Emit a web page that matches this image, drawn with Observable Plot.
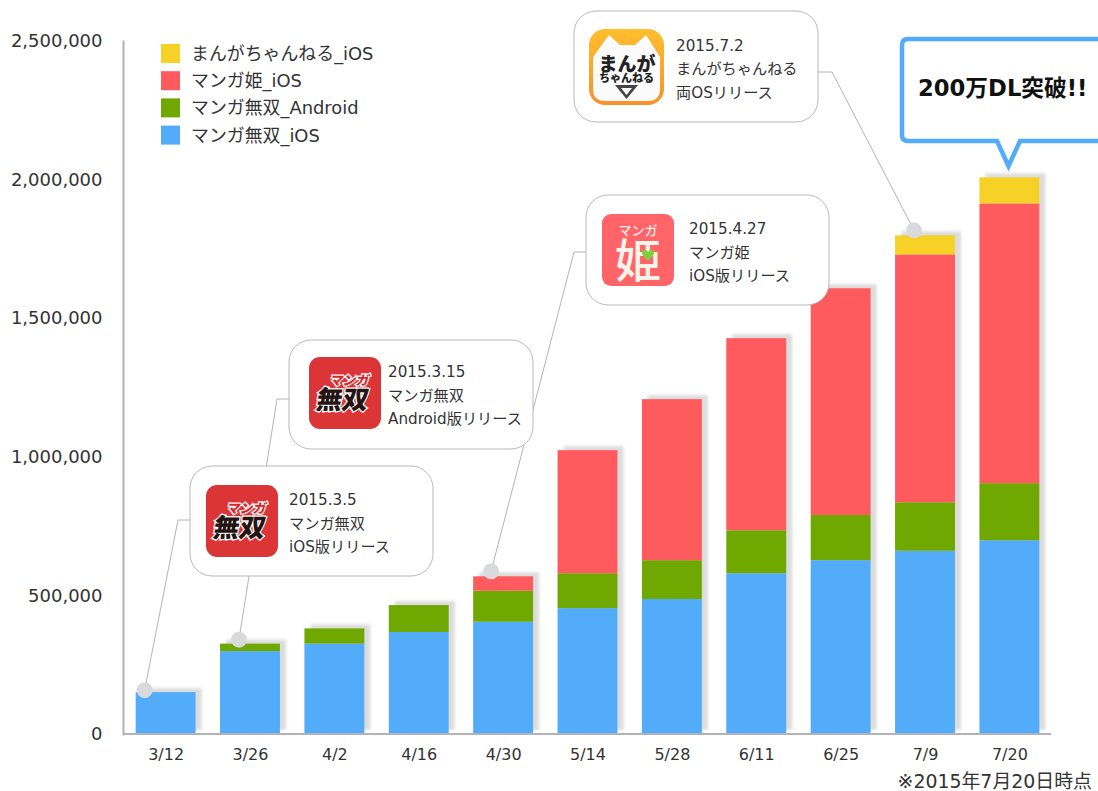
<!DOCTYPE html>
<html lang="ja">
<head>
<meta charset="utf-8">
<script src="https://cdn.jsdelivr.net/npm/d3@7"></script>
<script src="https://cdn.jsdelivr.net/npm/@observablehq/plot@0.6"></script>
<style>
html,body{margin:0;padding:0;background:#fff;overflow:hidden}
svg{display:block}
</style>
</head>
<body>
<div id="chart"></div>
<script>
const dates = ["3/12","3/26","4/2","4/16","4/30","5/14","5/28","6/11","6/25","7/9","7/20"];
const seriesNames = ["マンガ無双_iOS","マンガ無双_Android","マンガ姫_iOS","まんがちゃんねる_iOS"];
const seriesColors = ["#52acfa","#6fa800","#ff5b5f","#f6d227"];
const musoIos =     [151000,299000,326000,368000,405000,454000,487000,580000,627000,661000,699000];
const musoAndroid = [0,27000,55000,97000,112000,126000,140000,155000,163000,175000,206000];
const himeIos =     [0,0,0,0,52000,444000,581000,693000,818000,894000,1009000];
const channelIos =  [0,0,0,0,0,0,0,0,0,69000,94000];
const yTicks = [0,500000,1000000,1500000,2000000,2500000];
const footnote = "※2015年7月20日時点";
const headline = "200万DL突破!!";

const seriesValues = [musoIos,musoAndroid,himeIos,channelIos];
const rows = seriesNames.flatMap((s,i)=>dates.map((d,j)=>({date:d,series:s,value:seriesValues[i][j]})));
const totals = dates.map((d,j)=>({date:d,total:d3.sum(seriesValues,v=>v[j])}));

const FONT = '"DejaVu Sans","Noto Sans CJK JP",sans-serif';
const JP = '"Noto Sans CJK JP","DejaVu Sans",sans-serif';

// callout: box px, leader elbow px, release date (bar it points at), dot nudge
const callouts = [
  {bar:"3/26",dx:-11,dy:-4,box:[289,340,244,109],lead:[[289,399],[277,399]],text:["2015.3.15","マンガ無双","Android版リリース"],icon:"muso",ix:20,iy:17,tx:99,ty:32},
  {bar:"3/12",dx:-21,dy:-2,box:[190,466,243,110],lead:[[190,520],[178,520]],text:["2015.3.5","マンガ無双","iOS版リリース"],icon:"muso",ix:16,iy:19,tx:99,ty:34},
  {bar:"4/30",dx:-12,dy:-5,box:[586,195,243,110],lead:[[586,252],[574,252]],text:["2015.4.27","マンガ姫","iOS版リリース"],icon:"hime",ix:16,iy:19,tx:103,ty:34},
  {bar:"7/9", dx:-11,dy:-5,box:[574,11,244,111],lead:[[818,72],[832,72]],text:["2015.7.2","まんがちゃんねる","両OSリリース"],icon:"channel",ix:15,iy:18,tx:102,ty:34.5}
];

function txt(g,x,y,s,o={}){
  return g.append("text").attr("x",x).attr("y",y).text(s)
    .attr("font-family",o.font||FONT).attr("font-size",o.size||15)
    .attr("font-weight",o.weight||400).attr("fill",o.fill||"#333")
    .attr("text-anchor",o.anchor||"start").attr("dominant-baseline","central");
}

function drawIcon(g,kind,x,y){
  const i = g.append("g").attr("transform",`translate(${x},${y})`);
  if(kind==="muso"){
    i.append("rect").attr("width",72).attr("height",72).attr("rx",11).attr("fill","#dc3538");
    txt(i,0,0,"マンガ",{font:JP,size:13,weight:900,fill:"#d9262c",anchor:"middle"})
      .attr("stroke","#fff").attr("stroke-width",2.5).attr("paint-order","stroke")
      .attr("transform","translate(41,23) skewX(-14)");
    txt(i,0,0,"無双",{font:JP,size:26,weight:900,fill:"#241414",anchor:"middle"})
      .attr("stroke","#fff").attr("stroke-width",2.5).attr("paint-order","stroke")
      .attr("transform","translate(34,41) skewX(-10)");
  } else if(kind==="hime"){
    i.append("rect").attr("width",72).attr("height",72).attr("rx",9).attr("fill","#ff6468");
    txt(i,36,15,"マンガ",{font:JP,size:13,weight:500,fill:"#fbeeea",anchor:"middle"});
    txt(i,36,43,"姫",{font:JP,size:46,weight:500,fill:"#fbf3ea",anchor:"middle"});
    i.append("path").attr("d","M46 38c-2-3-6-3-6 1 0 3 4 5 6 8 2-3 6-5 6-8 0-4-4-4-6-1z").attr("fill","#7fcf3a");
  } else {
    const id="grad-channel";
    const lg=i.append("linearGradient").attr("id",id).attr("x1",0).attr("y1",0).attr("x2",0).attr("y2",1);
    lg.append("stop").attr("offset",0).attr("stop-color","#ffbe2e");
    lg.append("stop").attr("offset",1).attr("stop-color","#f8912a");
    i.append("rect").attr("width",75).attr("height",76).attr("rx",16).attr("fill",`url(#${id})`);
    i.append("path").attr("d","M4 28L20 6L31 16H46L57 6L71 28V60Q71 72 59 72H16Q4 72 4 60Z").attr("fill","#fbfbfb");
    txt(i,38,33,"まんが",{font:JP,size:19,weight:900,fill:"#222",anchor:"middle"});
    txt(i,37.5,48,"ちゃんねる",{font:JP,size:11,weight:900,fill:"#222",anchor:"middle"});
    i.append("path").attr("d","M26 56H49L37.5 70Z M32 59L37.5 66L43 59Z").attr("fill","#444").attr("fill-rule","evenodd");
  }
}

function annotations(index,scales){
  const g = d3.create("svg:g");
  const bw = scales.x.bandwidth ? scales.x.bandwidth() : 60;
  // baseline
  g.append("line").attr("x1",123).attr("x2",1051).attr("y1",scales.y(0)).attr("y2",scales.y(0))
    .attr("stroke","#b2b2ba").attr("stroke-width",2);
  // leader lines
  for(const c of callouts){
    const t = totals.find(d=>d.date===c.bar).total;
    const ax = scales.x(c.bar)+bw/2+c.dx, ay = scales.y(t)+c.dy;
    g.append("polyline").attr("points",[...c.lead,[ax,ay]].map(p=>p.join(",")).join(" "))
      .attr("fill","none").attr("stroke","#b4b4b4").attr("stroke-width",1);
    g.append("circle").attr("cx",ax).attr("cy",ay).attr("r",8).attr("fill","#d9dadc");
  }
  // callout boxes
  for(const c of callouts){
    const [x,y,w,h]=c.box;
    g.append("rect").attr("x",x).attr("y",y).attr("width",w).attr("height",h).attr("rx",22)
      .attr("fill","#fff").attr("stroke","#b9b9b9").attr("stroke-width",1);
    drawIcon(g,c.icon,x+c.ix,y+c.iy);
    c.text.forEach((s,k)=>txt(g,x+c.tx,y+c.ty+k*23.5,s,{size:15.2}));
  }
  // headline callout
  g.append("path").attr("d","M908 39H1110V141H1020L1008.5 166L997 141H908Q902 141 902 135V45Q902 39 908 39Z")
    .attr("fill","#fff").attr("stroke","#52acfa").attr("stroke-width",4.5).attr("stroke-linejoin","miter");
  txt(g,918,88,headline,{size:22.7,weight:700,fill:"#111"});
  // legend
  [...seriesNames].reverse().forEach((s,k)=>{
    g.append("rect").attr("x",161).attr("y",44+k*27.2).attr("width",19).attr("height",19)
      .attr("fill",seriesColors[seriesNames.length-1-k]);
    txt(g,191,53.5+k*27.2,s,{size:17.9,fill:"#333"});
  });
  txt(g,1092,780.5,footnote,{size:18.9,fill:"#333",anchor:"end"});
  return g.node();
}

const chart = Plot.plot({
  width:1098,height:791,
  marginLeft:123,marginRight:46,marginTop:41,marginBottom:57,
  style:{fontFamily:FONT,background:"#fff",overflow:"hidden"},
  x:{domain:dates,paddingInner:0.29,paddingOuter:0.15,round:false,label:null},
  y:{domain:[0,2500000],label:null},
  color:{domain:seriesNames,range:seriesColors},
  marks:[
    Plot.barY(totals,{x:"date",y:"total",fill:"#dcdcdc",dx:6,dy:-4,imageFilter:"blur(1.5px)"}),
    Plot.barY(rows,{x:"date",y:"value",fill:"series",order:seriesNames}),
    Plot.frame({anchor:"left",stroke:"#b2b2ba",strokeWidth:2}),
    Plot.axisY({ticks:yTicks,tickSize:0,tickPadding:21,fontSize:18,fill:"#333",label:null,tickFormat:d3.format(",")}),
    Plot.axisX({tickSize:0,tickPadding:14,fontSize:16,fill:"#333",label:null}),
    annotations
  ]
});
document.getElementById("chart").append(chart);
</script>
</body>
</html>
